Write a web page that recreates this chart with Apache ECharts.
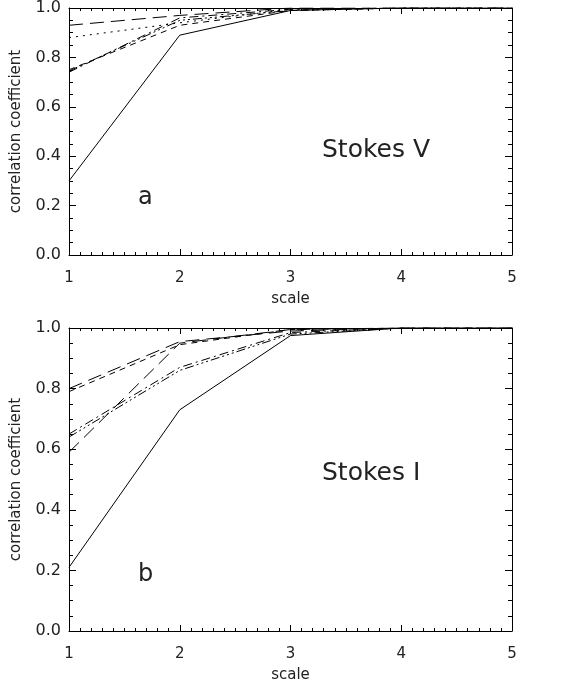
<!DOCTYPE html>
<html><head><meta charset="utf-8">
<script src="https://cdn.jsdelivr.net/npm/echarts@6/dist/echarts.min.js"></script>
<style>html,body{margin:0;padding:0;background:#fff}#c{width:577px;height:688px}</style>
</head><body><div id="c"></div>
<script>
// x values (scale)
const scales = [1, 2, 3, 4, 5];
const yTicks = [0, 0.2, 0.4, 0.6, 0.8, 1.0];

// Panel a: Stokes V
const vSolid    = [0.30, 0.89, 0.99, 1.00, 1.00];
const vLongDash = [0.93, 0.97, 1.00, 1.00, 1.00];
const vDotted   = [0.88, 0.94, 0.995, 1.00, 1.00];
const vDashed   = [0.75, 0.93, 0.99, 1.00, 1.00];
const vDashDot  = [0.74, 0.96, 0.995, 1.00, 1.00];
const vDash3Dot = [0.745, 0.95, 0.99, 1.00, 1.00];

// Panel b: Stokes I
const iSolid    = [0.21, 0.73, 0.975, 1.00, 1.00];
const iLongDash = [0.80, 0.955, 0.99, 1.00, 1.00];
const iDashed   = [0.79, 0.945, 0.995, 1.00, 1.00];
const iLongDash2= [0.59, 0.95, 0.995, 1.00, 1.00];
const iDashDot  = [0.65, 0.87, 0.985, 1.00, 1.00];
const iDash3Dot = [0.64, 0.86, 0.98, 1.00, 1.00];

const FONT = 'DejaVu Sans';
const TXT = '#222';

const styles = {
  solid: 'solid',
  longDash: [14, 7],
  dotted: [2, 5],
  dashed: [6, 5],
  dashDot: [9, 4, 2, 4],
  dash3Dot: [9, 3, 2, 3, 2, 3, 2, 3]
};

function pairs(ys){ return scales.map((x,i)=>[x, ys[i]]); }

function xAxes(gi){
  const base = {
    type:'value', min:1, max:5, interval:1, gridIndex:gi,
    axisLine:{show:true, onZero:false, lineStyle:{color:'#000', width:1}},
    axisTick:{show:true, inside:true, length:6, lineStyle:{color:'#000'}},
    minorTick:{show:true, splitNumber:10, length:3, lineStyle:{color:'#000'}},
    splitLine:{show:false}, minorSplitLine:{show:false}
  };
  return [
    Object.assign({}, base, {position:'bottom',
      axisLabel:{show:true, margin:16, fontFamily:FONT, fontSize:15, color:TXT},
      name:'scale', nameLocation:'middle', nameGap:37,
      nameTextStyle:{fontFamily:FONT, fontSize:15, color:TXT}}),
    Object.assign({}, base, {position:'top', axisLabel:{show:false}})
  ];
}
function yAxes(gi){
  const base = {
    type:'value', min:0, max:1, interval:0.2, gridIndex:gi,
    axisLine:{show:true, onZero:false, lineStyle:{color:'#000', width:1}},
    axisTick:{show:true, inside:true, length:7, lineStyle:{color:'#000'}},
    minorTick:{show:true, splitNumber:4, length:4, lineStyle:{color:'#000'}},
    splitLine:{show:false}, minorSplitLine:{show:false}
  };
  return [
    Object.assign({}, base, {position:'left',
      axisLabel:{show:true, margin:8, fontFamily:FONT, fontSize:16, color:TXT,
        formatter:v=>v.toFixed(1)},
      name:'correlation coefficient', nameLocation:'middle', nameGap:45,
      nameTextStyle:{fontFamily:FONT, fontSize:15, color:TXT}}),
    Object.assign({}, base, {position:'right', axisLabel:{show:false}})
  ];
}

function line(ys, type, xi, yi){
  return {type:'line', data:pairs(ys), xAxisIndex:xi, yAxisIndex:yi,
    showSymbol:false, symbol:'none', silent:true, animation:false,
    lineStyle:{color:'#000', width:1, type:type}};
}

const chart = echarts.init(document.getElementById('c'), null, {renderer:'canvas'});
chart.setOption({
  backgroundColor:'#fff',
  animation:false,
  grid:[
    {left:69, right:65, top:6, height:249},
    {left:69, right:65, top:328, height:303}
  ],
  xAxis:[...xAxes(0), ...xAxes(1)],
  yAxis:[...yAxes(0), ...yAxes(1)],
  series:[
    line(vSolid, styles.solid, 0, 0),
    line(vLongDash, styles.longDash, 0, 0),
    line(vDotted, styles.dotted, 0, 0),
    line(vDashed, styles.dashed, 0, 0),
    line(vDashDot, styles.dashDot, 0, 0),
    line(vDash3Dot, styles.dash3Dot, 0, 0),
    line(iSolid, styles.solid, 2, 2),
    line(iLongDash, styles.longDash, 2, 2),
    line(iDashed, styles.dashed, 2, 2),
    line(iLongDash2, styles.longDash, 2, 2),
    line(iDashDot, styles.dashDot, 2, 2),
    line(iDash3Dot, styles.dash3Dot, 2, 2)
  ],
  graphic:[
    {type:'text', left:322, top:138, style:{text:'Stokes V', font:'25px "DejaVu Sans"', fill:TXT}},
    {type:'text', left:138, top:186, style:{text:'a', font:'24px "DejaVu Sans"', fill:TXT}},
    {type:'text', left:322, top:461, style:{text:'Stokes I', font:'25px "DejaVu Sans"', fill:TXT}},
    {type:'text', left:138, top:563, style:{text:'b', font:'24px "DejaVu Sans"', fill:TXT}}
  ]
});
</script></body></html>
